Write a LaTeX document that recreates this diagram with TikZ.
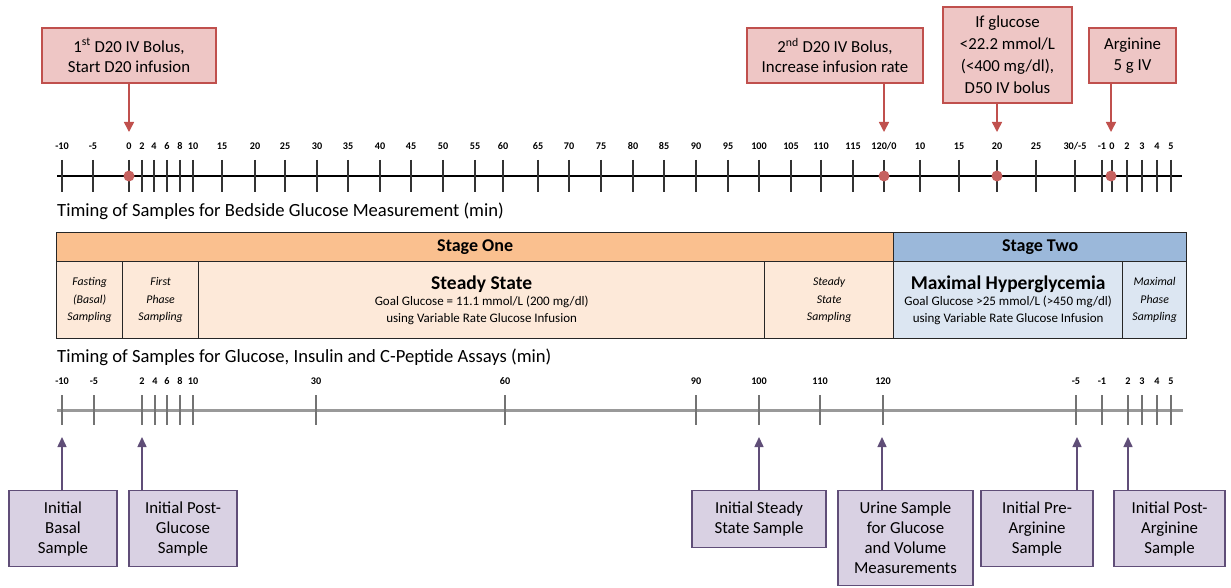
\documentclass[tikz,border=0pt]{standalone}
\usepackage{fontspec}
\setmainfont{Carlito}
\usetikzlibrary{arrows.meta, calc, positioning}

\definecolor{evred}{RGB}{192,80,77}
\definecolor{evpink}{RGB}{238,198,197}
\definecolor{smpurple}{RGB}{96,78,120}
\definecolor{smlilac}{RGB}{217,209,227}
\definecolor{oneHead}{RGB}{250,192,143}
\definecolor{oneBody}{RGB}{253,233,217}
\definecolor{twoHead}{RGB}{155,184,218}
\definecolor{twoBody}{RGB}{220,230,242}

\tikzset{
  evbox/.style={draw=evred, fill=evpink, line width=1.2pt, align=center, inner sep=2pt,
    font=\fontsize{16.8}{20.5}\selectfont},
  smbox/.style={draw=smpurple, fill=smlilac, line width=1.2pt, align=center, anchor=north,
    inner sep=2pt, font=\fontsize{16.8}{20}\selectfont},
  evarrow/.style={draw=evred, line width=1.5pt, -{Triangle[width=10pt,length=10pt]}},
  smarrow/.style={draw=smpurple, line width=1.5pt, -{Triangle[width=9pt,length=10pt]}},
  evdot/.style={circle, fill=evred!90!white, inner sep=0pt, minimum size=11pt},
  ticklabel/.style={font=\fontsize{10.2}{11}\selectfont\bfseries, inner sep=1pt},
  cell/.style={draw=black!85, line width=1.3pt, anchor=north west, inner sep=0pt, align=center},
  smallit/.style={font=\fontsize{11.8}{17.5}\selectfont\itshape},
  axistitle/.style={anchor=west, inner sep=0pt, font=\fontsize{18.6}{22}\selectfont},
}

\begin{document}
\begin{tikzpicture}[x=1pt, y=-1pt]
\useasboundingbox (0,0) rectangle (1231,588);

% bedside glucose timeline
\draw[line width=1.2pt] (57,176) -- (1182,176);
\foreach \x/\t in {62/-10, 93/-5, 129/0, 142/2, 154/4, 167/6, 180/8, 193/10, 222/15, 255/20,
    285/25, 317/30, 348/35, 380/40, 411/45, 443/50, 475/55, 503/60, 538/65, 569/70, 601/75,
    633/80, 664/85, 696/90, 728/95, 759/100, 791/105, 821/110, 853/115, 884/{120/0}, 920/10,
    959/15, 997/20, 1036/25, 1075/{30/-5}, 1102/-1, 1112/0, 1127/2, 1142/3, 1157/4, 1171/5}{
  \draw[black!80, line width=1.3pt] (\x,160) -- (\x,192);
  \node[ticklabel] (top-\x) at (\x,146) {\t};
}
\node[axistitle] (title-top) at (57,211) {Timing of Samples for Bedside Glucose Measurement (min)};

\node[evbox, minimum width=174pt, minimum height=55pt] (bolus1) at (129,55.5)
  {1\textsuperscript{st} D20 IV Bolus,\\Start D20 infusion};
\node[evbox, minimum width=176pt, minimum height=55pt] (bolus2) at (835,55.5)
  {2\textsuperscript{nd} D20 IV Bolus,\\Increase infusion rate};
\node[evbox, minimum width=129pt, minimum height=96pt, font=\fontsize{16.8}{22}\selectfont] (rescue) at (1007.5,55)
  {If glucose\\<22.2 mmol/L\\(<400 mg/dl),\\D50 IV bolus};
\node[evbox, minimum width=87pt, minimum height=55pt] (arginine) at (1132.5,55.5)
  {Arginine\\5 g IV};

\coordinate (e1) at (129,132);
\coordinate (e2) at (884,132);
\coordinate (e3) at (997,132);
\coordinate (e4) at (1111,132);
\draw[evarrow] (bolus1.south -| e1) -- (e1);
\draw[evarrow] (bolus2.south -| e2) -- (e2);
\draw[evarrow] (rescue.south -| e3) -- (e3);
\draw[evarrow] (arginine.south -| e4) -- (e4);

\node[evdot] (d1) at (129,176) {};
\node[evdot] (d2) at (884,176) {};
\node[evdot] (d3) at (997,176) {};
\node[evdot] (d4) at (1111,176) {};

% stages
\node[cell, fill=oneHead, minimum width=837pt, minimum height=29pt,
  font=\fontsize{18}{20}\selectfont\bfseries] (stage-one) at (56,232) {Stage One};
\node[cell, fill=twoHead, minimum width=293pt, minimum height=29pt,
  font=\fontsize{18}{20}\selectfont\bfseries] (stage-two) at (893,232) {Stage Two};

\node[cell, smallit, fill=oneBody, minimum width=66pt, minimum height=77pt] (fasting) at (56,261)
  {Fasting\\(Basal)\\Sampling};
\node[cell, smallit, fill=oneBody, minimum width=76pt, minimum height=77pt] (firstphase) at (122,261)
  {First\\Phase\\Sampling};
\node[cell, fill=oneBody, minimum width=566pt, minimum height=77pt] (steady) at (198,261)
  {{\fontsize{19.5}{22}\selectfont\bfseries Steady State}\\[2pt]
   {\fontsize{13}{15}\selectfont Goal Glucose = 11.1 mmol/L (200 mg/dl)}\\[5pt]
   {\fontsize{13}{15}\selectfont using Variable Rate Glucose Infusion}};
\node[cell, smallit, fill=oneBody, minimum width=129pt, minimum height=77pt] (steadysampling) at (764,261)
  {Steady\\State\\Sampling};
\node[cell, fill=twoBody, minimum width=229pt, minimum height=77pt] (maxhyper) at (893,261)
  {{\fontsize{19.5}{22}\selectfont\bfseries Maximal Hyperglycemia}\\[2pt]
   {\fontsize{13}{15}\selectfont Goal Glucose >25 mmol/L (>450 mg/dl)}\\[5pt]
   {\fontsize{13}{15}\selectfont using Variable Rate Glucose Infusion}};
\node[cell, smallit, fill=twoBody, minimum width=64pt, minimum height=77pt] (maxphase) at (1122,261)
  {Maximal\\Phase\\Sampling};

% assay timeline
\node[axistitle] (title-bottom) at (57,357) {Timing of Samples for Glucose, Insulin and C-Peptide Assays (min)};
\draw[black!40, line width=3pt] (57,410) -- (1183,410);
\foreach \x/\t in {62/-10, 94/-5, 142/2, 155/4, 167/6, 180/8, 193/10, 316/30, 505/60, 696/90,
    759/100, 820/110, 883/120, 1076/-5, 1102/-1, 1128/2, 1142/3, 1157/4, 1171/5}{
  \draw[black!55, line width=1.5pt] (\x,395) -- (\x,425);
  \node[ticklabel] (bot-\x) at (\x,381) {\t};
}

\node[smbox, minimum width=108pt, minimum height=76pt] (basal) at (63,490) {Initial\\Basal\\Sample};
\node[smbox, minimum width=108pt, minimum height=76pt] (postglu) at (183,490) {Initial Post-\\Glucose\\Sample};
\node[smbox, minimum width=134pt, minimum height=57pt] (steadysample) at (759,490) {Initial Steady\\State Sample};
\node[smbox, minimum width=135pt, minimum height=95pt] (urine) at (905.5,490)
  {Urine Sample\\for Glucose\\and Volume\\Measurements};
\node[smbox, minimum width=112pt, minimum height=76pt] (prearg) at (1037,490) {Initial Pre-\\Arginine\\Sample};
\node[smbox, minimum width=111pt, minimum height=76pt] (postarg) at (1169.5,490) {Initial Post-\\Arginine\\Sample};

\coordinate (u1) at (62,437);
\coordinate (u2) at (142,437);
\coordinate (u3) at (759,437);
\coordinate (u4) at (882,437);
\coordinate (u5) at (1077,437);
\coordinate (u6) at (1128,437);
\draw[smarrow] (basal.north -| u1) -- (u1);
\draw[smarrow] (postglu.north -| u2) -- (u2);
\draw[smarrow] (steadysample.north -| u3) -- (u3);
\draw[smarrow] (urine.north -| u4) -- (u4);
\draw[smarrow] (prearg.north -| u5) -- (u5);
\draw[smarrow] (postarg.north -| u6) -- (u6);
\end{tikzpicture}
\end{document}
